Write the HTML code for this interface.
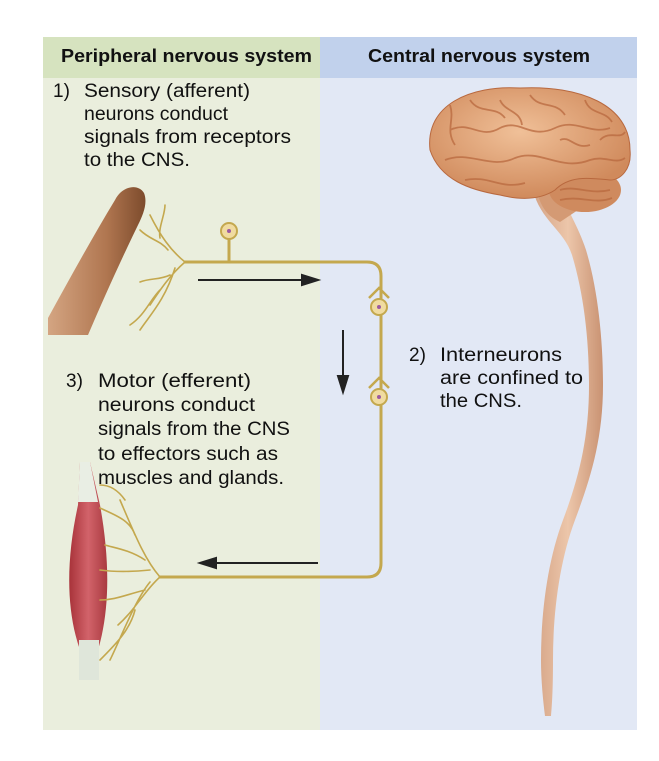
<!DOCTYPE html>
<html><head><meta charset="utf-8"><style>
html,body{margin:0;padding:0;background:#fff;}
svg{display:block;font-family:"Liberation Sans",sans-serif;}
</style></head><body>
<svg width="659" height="761" viewBox="0 0 659 761" xmlns="http://www.w3.org/2000/svg">
<defs>
<linearGradient id="mus" x1="0" y1="0" x2="1" y2="0"><stop offset="0" stop-color="#a8333a"/><stop offset="0.5" stop-color="#d2636a"/><stop offset="1" stop-color="#a93a40"/></linearGradient>
<linearGradient id="fin" x1="0" y1="0" x2="1" y2="0"><stop offset="0" stop-color="#d4a582"/><stop offset="0.6" stop-color="#b07650"/><stop offset="1" stop-color="#7d4b2c"/></linearGradient>
<radialGradient id="br" cx="0.45" cy="0.4" r="0.6"><stop offset="0" stop-color="#f0c098"/><stop offset="1" stop-color="#d08a5c"/></radialGradient>
<linearGradient id="sc" x1="0" y1="0" x2="1" y2="0"><stop offset="0" stop-color="#d4a284"/><stop offset="0.5" stop-color="#ecc6aa"/><stop offset="1" stop-color="#c99272"/></linearGradient>
</defs>
<rect x="43" y="37" width="277" height="693" fill="#eaeedd"/>
<rect x="320" y="37" width="317" height="693" fill="#e2e8f5"/>
<rect x="43" y="37" width="277" height="41" fill="#d6e3bf"/>
<rect x="320" y="37" width="317" height="41" fill="#c1d1ec"/>
<g font-weight="bold" font-size="18" fill="#111" lengthAdjust="spacingAndGlyphs">
<text x="61" y="62" textLength="251" lengthAdjust="spacingAndGlyphs">Peripheral nervous system</text>
<text x="368" y="62" textLength="222" lengthAdjust="spacingAndGlyphs">Central nervous system</text>
</g>
<!-- spinal cord -->
<path d="M533,190 L562,190 C566,210 578,225 586,250 C598,290 603,340 603,385 C603,440 590,480 575,520 C560,560 553,610 553,660 C553,690 552,705 551,716 L545,716 C543,700 541,680 541,660 C541,610 548,560 563,520 C578,480 589,440 589,385 C589,340 584,295 572,255 C564,230 540,220 533,190 Z" fill="url(#sc)"/>
<g font-size="19" fill="#111">
<text x="53" y="97">1)</text>
<text x="84" y="97" textLength="166" lengthAdjust="spacingAndGlyphs">Sensory (afferent)</text>
<text x="84" y="120" textLength="144" lengthAdjust="spacingAndGlyphs">neurons conduct</text>
<text x="84" y="143" textLength="207" lengthAdjust="spacingAndGlyphs">signals from receptors</text>
<text x="84" y="166" textLength="106" lengthAdjust="spacingAndGlyphs">to the CNS.</text>
<text x="66" y="387">3)</text>
<text x="98" y="387" textLength="153" lengthAdjust="spacingAndGlyphs">Motor (efferent)</text>
<text x="98" y="411" textLength="157" lengthAdjust="spacingAndGlyphs">neurons conduct</text>
<text x="98" y="435" textLength="192" lengthAdjust="spacingAndGlyphs">signals from the CNS</text>
<text x="98" y="460" textLength="180" lengthAdjust="spacingAndGlyphs">to effectors such as</text>
<text x="98" y="484" textLength="186" lengthAdjust="spacingAndGlyphs">muscles and glands.</text>
<text x="409" y="361">2)</text>
<text x="440" y="361" textLength="122" lengthAdjust="spacingAndGlyphs">Interneurons</text>
<text x="440" y="384" textLength="143" lengthAdjust="spacingAndGlyphs">are confined to</text>
<text x="440" y="407" textLength="82" lengthAdjust="spacingAndGlyphs">the CNS.</text>
</g>
<!-- brain -->
<path d="M535,185 C540,205 545,215 560,222 L578,210 L575,185 Z" fill="#d49a74"/>
<ellipse cx="585" cy="190" rx="36" ry="22" fill="#cf8a5e"/>
<path d="M430,150 C425,105 470,85 520,88 C580,85 630,105 630,150 C632,170 620,180 610,180 C590,178 570,175 555,190 C540,200 520,200 500,195 C470,190 440,180 430,150 Z" fill="url(#br)" stroke="#b8683e" stroke-width="1"/>
<g stroke="#b9693f" stroke-width="1.8" fill="none" opacity="0.75">
<path d="M450,130 C470,120 480,140 500,128 C520,118 530,140 555,128 C575,118 590,135 610,128"/>
<path d="M445,160 C470,150 490,170 515,158 C540,148 560,172 590,160 C605,155 615,165 625,158"/>
<path d="M470,100 C480,115 495,105 505,118"/><path d="M530,95 C540,110 555,100 565,115"/><path d="M585,100 C590,115 605,110 612,122"/>
<path d="M465,180 C490,175 500,190 525,183"/><path d="M450,105 C455,120 445,130 455,145"/><path d="M500,100 C505,112 520,110 522,125"/>
<path d="M560,140 C570,135 575,150 590,145"/><path d="M600,140 C610,130 620,140 625,132"/>
<path d="M560,190 C575,185 590,195 610,190 M560,200 C580,195 595,205 612,198"/>
</g>
<!-- finger -->
<path d="M48,318 C70,278 92,238 115,200 C122,186 138,183 144,193 C148,203 143,215 138,225 C120,262 103,300 88,335 L48,335 Z" fill="url(#fin)"/>
<!-- muscle -->
<path d="M80,462 L90,462 L100,505 C110,560 110,610 98,650 L98,680 L80,680 L80,650 C66,610 66,560 78,505 Z" fill="url(#mus)"/>
<path d="M80,462 L90,462 L98,502 L78,502 Z" fill="#e9eee4"/>
<rect x="79" y="640" width="20" height="40" fill="#dfe6da"/>
<!-- neuron -->
<g stroke="#c4a84e" stroke-width="3" fill="none" stroke-linecap="round">
<path d="M185,262 L367,262 Q381,262 381,276 L381,563 Q381,577 367,577 L160,577"/>
<path d="M229,238 L229,262"/>
</g>
<g stroke="#c4a84e" stroke-width="1.6" fill="none" stroke-linecap="round">
<path d="M185,262 C170,250 160,235 150,215 M168,250 C160,240 150,240 140,230 M160,238 C158,228 165,215 165,205 M185,262 C170,275 160,290 150,305 M170,275 C160,280 150,278 140,282 M160,290 C150,300 145,315 130,325 M175,268 C165,300 150,315 140,330"/>
<path d="M160,577 C145,560 135,535 120,500 M145,560 C130,550 115,548 105,545 M135,535 C130,520 115,515 100,508 M150,570 C130,572 115,572 100,570 M160,577 C145,590 135,610 118,625 M145,590 C125,595 115,600 100,600 M135,610 C130,630 115,645 100,660 M150,582 C135,600 120,640 110,660 M125,500 C118,490 110,485 100,485"/>
</g>
<circle cx="229" cy="231" r="8" fill="#f0dba0" stroke="#c4a84e" stroke-width="2"/><circle cx="229" cy="231" r="2" fill="#9b5aa0"/>
<g stroke="#c4a84e" stroke-width="2.5" fill="none"><path d="M369,298 L379,288 L389,298"/><path d="M369,388 L379,378 L389,388"/></g>
<circle cx="379" cy="307" r="8" fill="#f0dba0" stroke="#c4a84e" stroke-width="2"/><circle cx="379" cy="307" r="2" fill="#9b5aa0"/>
<circle cx="379" cy="397" r="8" fill="#f0dba0" stroke="#c4a84e" stroke-width="2"/><circle cx="379" cy="397" r="2" fill="#9b5aa0"/>
<!-- arrows -->
<g stroke="#222" stroke-width="2" fill="#222">
<line x1="198" y1="280" x2="305" y2="280"/><path d="M318,280 L302,275 L302,285 Z"/>
<line x1="343" y1="330" x2="343" y2="378"/><path d="M343,392 L338,376 L348,376 Z"/>
<line x1="318" y1="563" x2="213" y2="563"/><path d="M200,563 L216,558 L216,568 Z"/>
</g>
</svg>
</body></html>
